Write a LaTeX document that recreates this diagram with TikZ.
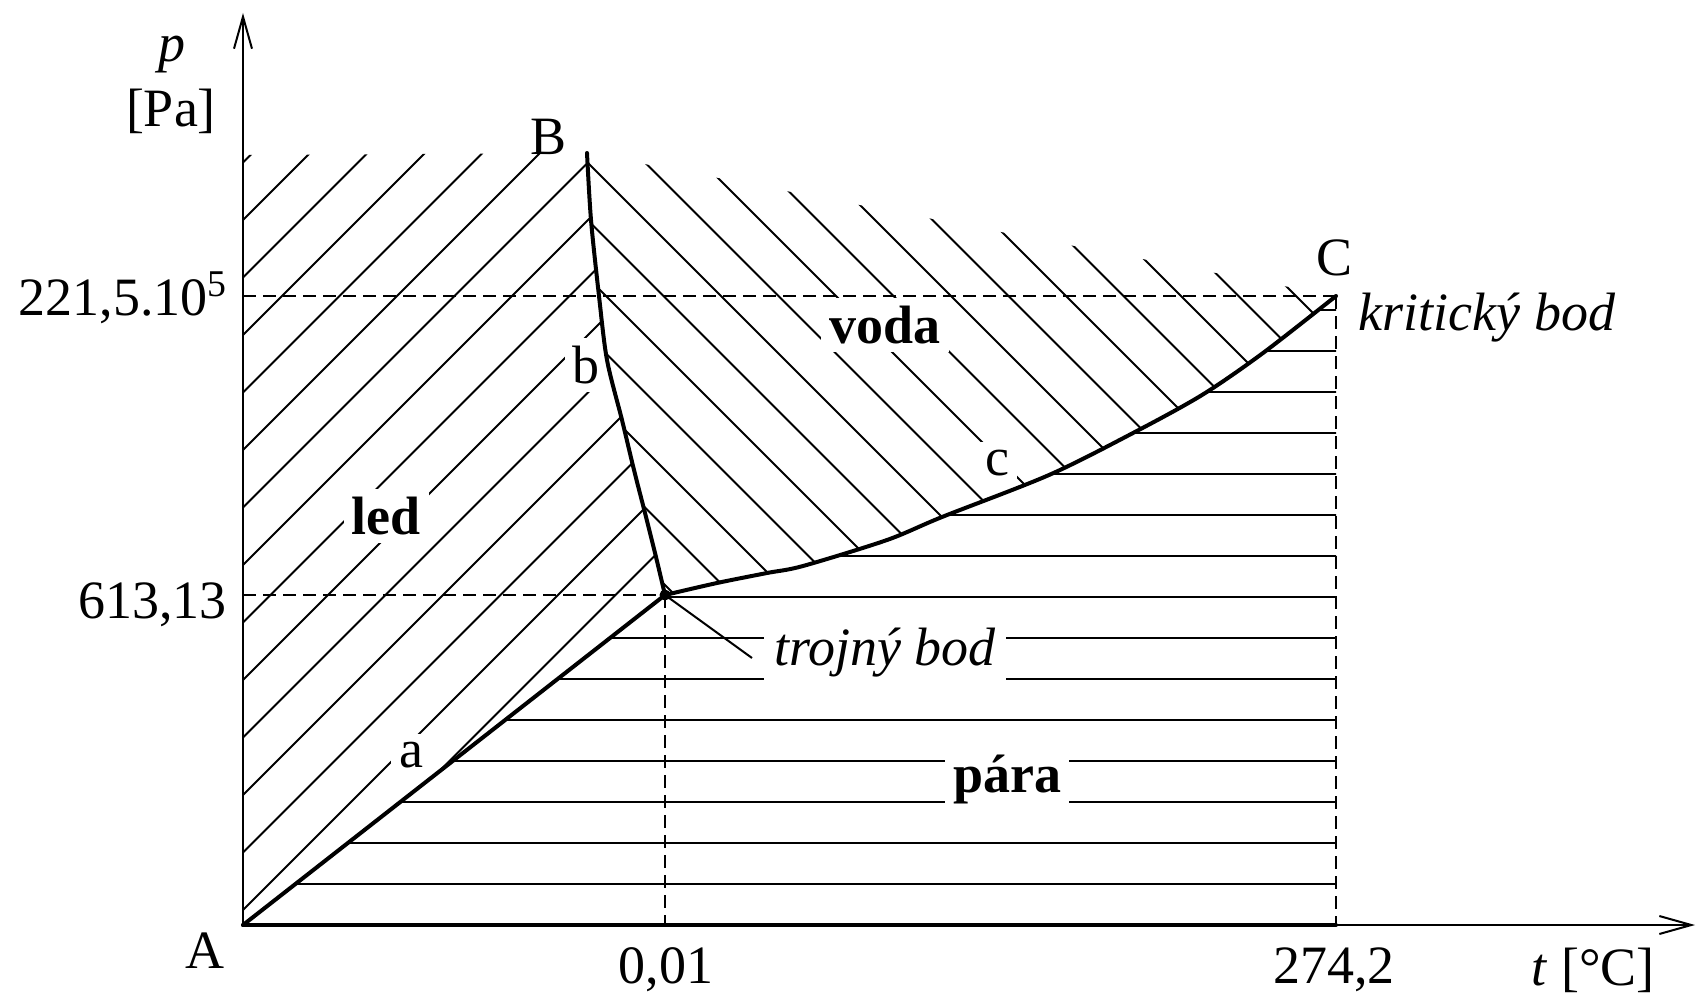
\documentclass[tikz,border=0pt]{standalone}
\usepackage{fontspec}
\setmainfont{Liberation Serif}
\usetikzlibrary{arrows.meta}
\tikzset{
  axis/.style={line width=1pt, -{Straight Barb[length=16pt, width=9pt, line width=1pt]}},
  bound/.style={line width=2pt, line join=round, line cap=round},
  hatchline/.style={line width=1pt},
  guide/.style={line width=0.75pt, dash pattern=on 6.5pt off 3.5pt},
  lab/.style={font=\fontsize{27}{30}\selectfont, inner sep=0pt},
  phasename/.style={lab, font=\fontsize{27}{30}\selectfont\bfseries, fill=white, inner sep=4pt},
  pointlab/.style={lab, fill=white, inner sep=4pt}
}
% phase boundaries
\newcommand{\meltcurve}{-- plot[smooth] coordinates {(344,772) (348,705) (356,629) (364,565) (379,505) (391,455) (402,412) (413,368) (422,330)}}
\newcommand{\vapcurve}{-- plot[smooth] coordinates {(422,330) (474,342) (524,352) (560,359) (644,385) (699,408) (806,450) (890,492) (959,530) (1020,572) (1093,629)}}

\begin{document}
\begin{tikzpicture}[x=0.5pt, y=0.5pt]
  \useasboundingbox (-243,-78) rectangle (1453,925);
  \coordinate (A) at (0,0);
  \coordinate (B) at (344,772);
  \coordinate (T) at (422,330);
  \coordinate (C) at (1093,629);
  \coordinate (ptop) at (0,912);
  \coordinate (tend) at (1452,0);
  \coordinate (icetop) at (0,770);
  \coordinate (tbend) at (509,267);

  % led
  \begin{scope}
    \clip (A) -- (icetop) \meltcurve -- cycle;
    \foreach \d in {-42.5,15,...,770}
      \draw[hatchline] (-50,\d-50) -- (850,\d+850);
  \end{scope}
  % voda
  \begin{scope}
    \clip (B) \meltcurve \vapcurve -- cycle;
    \foreach \s in {762,819.5,...,1690}
      \draw[hatchline] (300,\s-300) -- (1200,\s-1200);
  \end{scope}
  % para
  \begin{scope}
    \clip (A) -- (T) \vapcurve -- (C |- A) -- cycle;
    \foreach \y in {41,82,...,620}
      \draw[hatchline, line width=1.2pt] (0,\y) -- (1100,\y);
  \end{scope}

  \node[phasename, anchor=base] (led) at (143,391) {led};
  \node[phasename, anchor=base] (voda) at (642,582) {voda};
  \node[phasename, anchor=base] (para) at (764,133) {pára};
  \node[pointlab, anchor=base] (la) at (168,158) {a};
  \node[pointlab, anchor=base] (lb) at (343,542) {b};
  \node[pointlab, anchor=base] (lc) at (754,450) {c};
  \node[pointlab, inner sep=5pt, anchor=base] (trojny) at (642,260) {\itshape trojný bod};

  \draw[guide] (A |- C) -- (C);
  \draw[guide] (A |- T) -- (T);
  \draw[guide] (T) -- (T |- A);
  \draw[guide] (C) -- (C |- A);

  \draw[axis] (A) -- (ptop);
  \draw[axis] (A) -- (tend);
  \draw[bound] (A) -- (C |- A);
  \draw[bound] (A) -- (T);
  \draw[bound] (B) \meltcurve;
  \draw[bound] (T) \vapcurve;
  \fill (T) circle (5.5);
  \draw[hatchline] (T) -- (tbend);

  \node[lab, anchor=base] (pvar) at (-71,863) {\itshape p};
  \node[lab, anchor=base] (punit) at (-72,798) {[Pa]};
  \node[lab, anchor=base] (lB) at (306,770) {B};
  \node[lab, anchor=base] (lC) at (1091,650) {C};
  \node[lab, anchor=base] (krit) at (1244,595) {\itshape kritický bod};
  \node[lab, anchor=base east] (pcrit) at (-15,610) {221,5.10\textsuperscript{5}};
  \node[lab, anchor=base east] (ptrip) at (-16,307) {613,13};
  \node[lab, anchor=base] (ttrip) at (423,-58) {0,01};
  \node[lab, anchor=base] (tcrit) at (1091,-58) {274,2};
  \node[lab, anchor=base] (tunit) at (1350,-60) {\textit{t} [°C]};
  \node[lab, anchor=base] (lA) at (-38,-43) {A};
\end{tikzpicture}
\end{document}
